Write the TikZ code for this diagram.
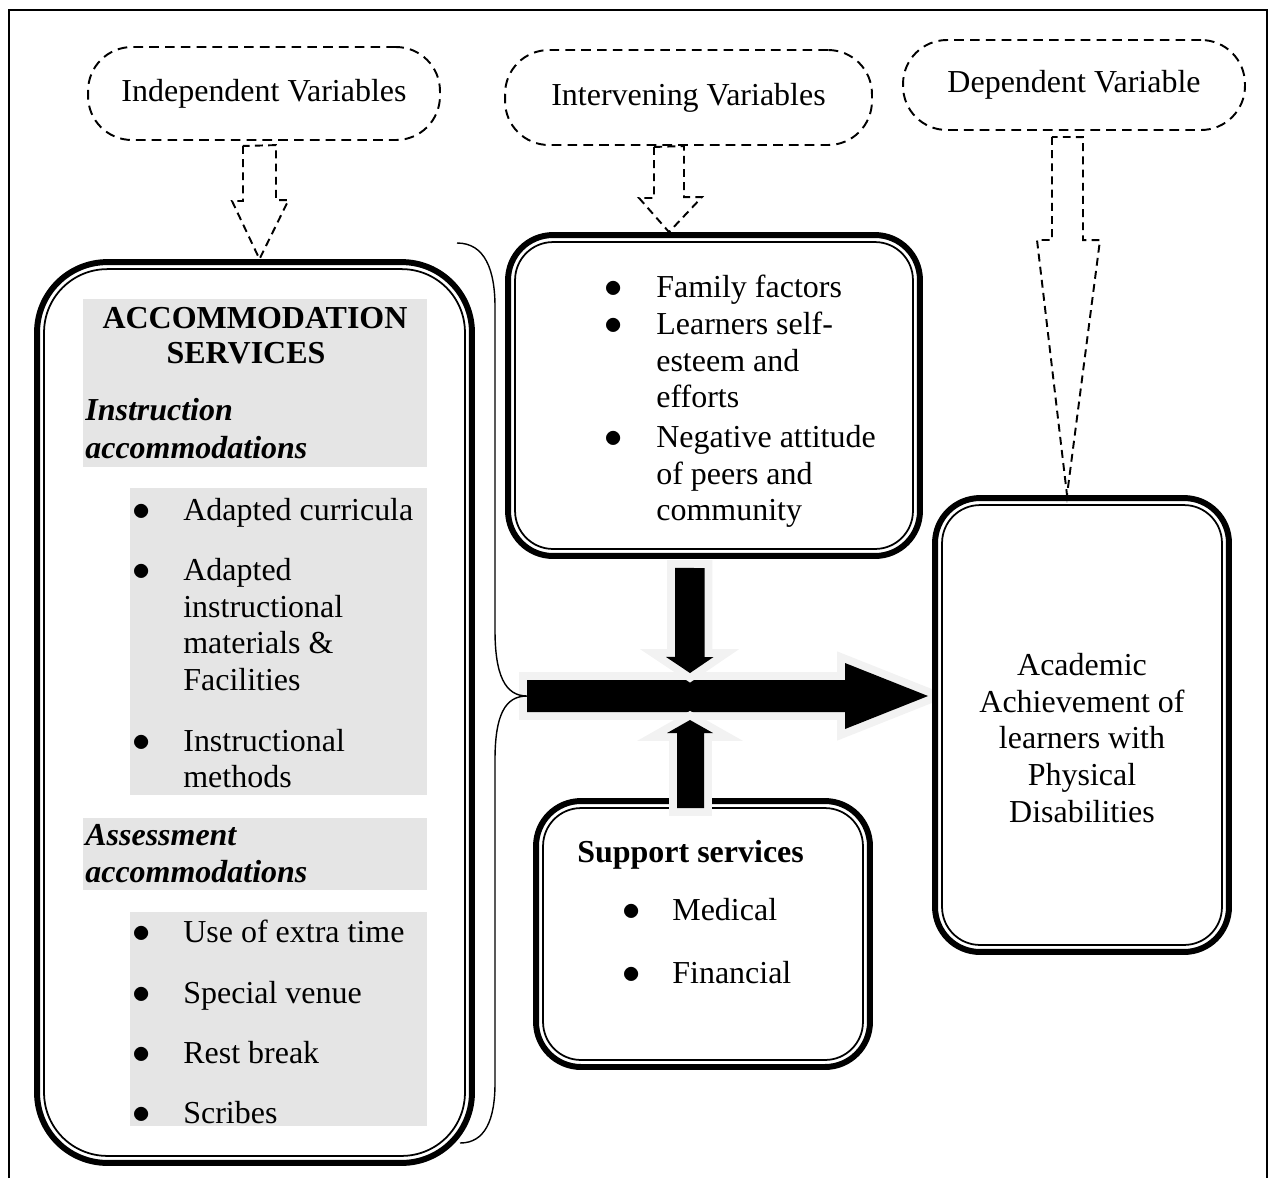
\documentclass[tikz,border=0pt]{standalone}
\usepackage{fontspec}
\setmainfont{Liberation Serif}
\usepackage{tikz}
\usetikzlibrary{
	calc,
	backgrounds % arrow behind boxes
}
\tikzset{
  % frame
	cstframe/.style   ={line width=1.4pt},
  % dashed shapes
	cstoval/.style    ={draw, line width=1.1pt, dash pattern=on 5.5pt off 3.5pt, rounded corners=25pt, font=\fontsize{18.2}{21}\selectfont},
	cstdarr/.style    ={line width=1.1pt, dash pattern=on 4.5pt off 3pt, line join=miter},
  % boxes
	cstbox/.style     ={draw, line width=3.4pt, rounded corners=25.6pt, inner sep=0pt},
	cstboxl/.style    ={cstbox, rounded corners=40pt},
	cstinner/.style   ={line width=1pt, rounded corners=21.6pt},
	cstinnerl/.style  ={line width=1pt, rounded corners=36pt},
	cstshade/.style   ={fill=black!10},
  % block arrows
	cstbarr/.style    ={fill=black, preaction={draw=black!5, line width=9pt, line join=miter}},
	cstbrace/.style   ={line width=0.8pt},
  % text
	csttxt/.style     ={anchor=base west, inner sep=0pt, font=\fontsize{18.2}{21}\selectfont},
	csthead/.style    ={csttxt, font=\fontsize{18.2}{21}\selectfont\bfseries},
	cstsub/.style     ={csttxt, font=\fontsize{18.2}{21}\selectfont\bfseries\itshape},
	cstbul/.style     ={anchor=base, inner sep=0pt, font=\fontsize{21}{24}\selectfont}
}
\begin{document}
\begin{tikzpicture}[x=0.02cm,y=-0.02cm]
	\useasboundingbox (0,0) rectangle (1271,1178);
	\draw[cstframe] (9,1178) -- (9,10) -- (1267,10) -- (1267,1178);
	% variables
	\node[cstoval, minimum width=7.04cm, minimum height=1.86cm] (indep) at (264,93.5) {Independent Variables};
	\node[cstoval, minimum width=7.34cm, minimum height=1.9cm] (interv) at (688.5,97.5) {Intervening Variables};
	\node[cstoval, minimum width=6.84cm, minimum height=1.8cm] (dep) at (1074,85) {Dependent Variable};
	% boxes
	\node[cstboxl, minimum width=8.7cm, minimum height=18.02cm] (acc) at (254.5,712.5) {};
	\node[cstbox, minimum width=8.24cm, minimum height=6.42cm] (inter) at (714,395.5) {};
	\node[cstbox, minimum width=6.68cm, minimum height=5.32cm] (supp) at (703,934) {};
	\node[cstbox, fill=white, minimum width=5.88cm, minimum height=9.08cm] (acad) at (1082,725) {};
	\draw[cstinnerl] ([shift={(10,10)}]acc.north west) rectangle ([shift={(-10,-10)}]acc.south east);
	\draw[cstinner] ([shift={(10,10)}]inter.north west) rectangle ([shift={(-10,-10)}]inter.south east);
	\draw[cstinner] ([shift={(10,10)}]supp.north west) rectangle ([shift={(-10,-10)}]supp.south east);
	\draw[cstinner] ([shift={(10,10)}]acad.north west) rectangle ([shift={(-10,-10)}]acad.south east);
	% dashed arrows
	\draw[cstdarr] ($(indep.south)+(-21,5)$) -- ++(0,55) -- ++(-11,0) -- ($(acc.north)+(5,0)$) -- ++(29,-59) -- ++(-12.5,0) -- ++(0,-55) -- cycle;
	\draw[cstdarr] ($(interv.south)+(-34.5,1)$) -- ++(0,51) -- ++(-15,0) -- ($(inter.north)+(-45,0)$) -- ++(33,-35) -- ++(-18,0) -- ++(0,-51) -- cycle;
	\draw[cstdarr] ($(dep.south)+(-22,6)$) -- ++(0,103) -- ++(-15,0) -- ($(acad.north)+(-15,0)$) -- ++(33,-255) -- ++(-17,0) -- ++(0,-103) -- cycle;
	% shaded blocks
	\fill[cstshade] (83,299) rectangle (427,467);
	\fill[cstshade] (130,488) rectangle (427,795);
	\fill[cstshade] (83,818) rectangle (427,890);
	\fill[cstshade] (130,912) rectangle (427,1126);
	% black arrows
	\coordinate (tail) at (527,696);
	\coordinate (hub) at (690,696);
	\begin{pgfonlayer}{background}
		\path[cstbarr] ($(tail)+(0,-16)$) -- ++(318,0) -- ++(0,-17) -- ($(acad.west)+(-4,-29)$) -- ($(tail)+(318,33)$) -- ++(0,-17) -- ++(-318,0) -- cycle;
	\end{pgfonlayer}
	\path[cstbarr] ($(inter.south)+(-39,9)$) -- ++(0,89) -- ++(-9,0) -- ($(hub)+(0,-23)$) -- ++(23.5,-16) -- ++(-9,0) -- ++(0,-89) -- cycle;
	\path[cstbarr] ($(supp.north)+(-26,10)$) -- ++(0,-75) -- ++(-10,0) -- ($(hub)+(0,24)$) -- ++(23,13) -- ++(-9,0) -- ++(0,75) -- cycle;
	\draw[cstbrace] (457,243) .. controls (485,243) and (495,270) .. (495,307) -- (495,630) .. controls (495,675) and (505,696) .. (tail) .. controls (505,696) and (495,715) .. (495,760) -- (495,1083) .. controls (495,1120) and (485,1143) .. (460,1143);
	% accommodation text
	\node[csthead, anchor=base] (accA) at (255,328) {ACCOMMODATION};
	\node[csthead, anchor=base] (accB) at (246,363) {SERVICES};
	\node[cstsub] (ins1) at (85,420) {Instruction};
	\node[cstsub] (ins2) at (85,458) {accommodations};
	\foreach \y/\t [count=\i] in {520/Adapted curricula, 580/Adapted, 617/instructional, 653/materials \&, 690/Facilities, 751/Instructional, 787/methods}
		\node[csttxt] (ia\i) at (183,\y) {\t};
	\foreach \y [count=\i] in {520,580,751}
		\node[cstbul] (ib\i) at (142,\y) {$\bullet$};
	\node[cstsub] (ass1) at (85,845) {Assessment};
	\node[cstsub] (ass2) at (85,882) {accommodations};
	\foreach \y/\t [count=\i] in {942/Use of extra time, 1003/Special venue, 1063/Rest break, 1123/Scribes}{
		\node[csttxt] (aa\i) at (183,\y) {\t};
		\node[cstbul] (ab\i) at (142,\y) {$\bullet$};
	}
	% intervening text
	\foreach \y/\t [count=\i] in {297/Family factors, 334/Learners self-, 371/esteem and, 407/efforts, 447/Negative attitude, 484/of peers and, 520/community}
		\node[csttxt] (it\i) at (656,\y) {\t};
	\foreach \y [count=\i] in {297,334,447}
		\node[cstbul] (ibl\i) at (614,\y) {$\bullet$};
	% support text
	\node[csthead] (supA) at (577,862) {Support services};
	\foreach \y/\t [count=\i] in {920/Medical, 983/Financial}{
		\node[csttxt] (st\i) at (672,\y) {\t};
		\node[cstbul] (sb\i) at (632,\y) {$\bullet$};
	}
	% dependent text
	\foreach \y/\t [count=\i] in {675/Academic, 712/Achievement of, 748/learners with, 785/Physical, 822/Disabilities}
		\node[csttxt, anchor=base] (ad\i) at (1082,\y) {\t};
\end{tikzpicture}
\end{document}
